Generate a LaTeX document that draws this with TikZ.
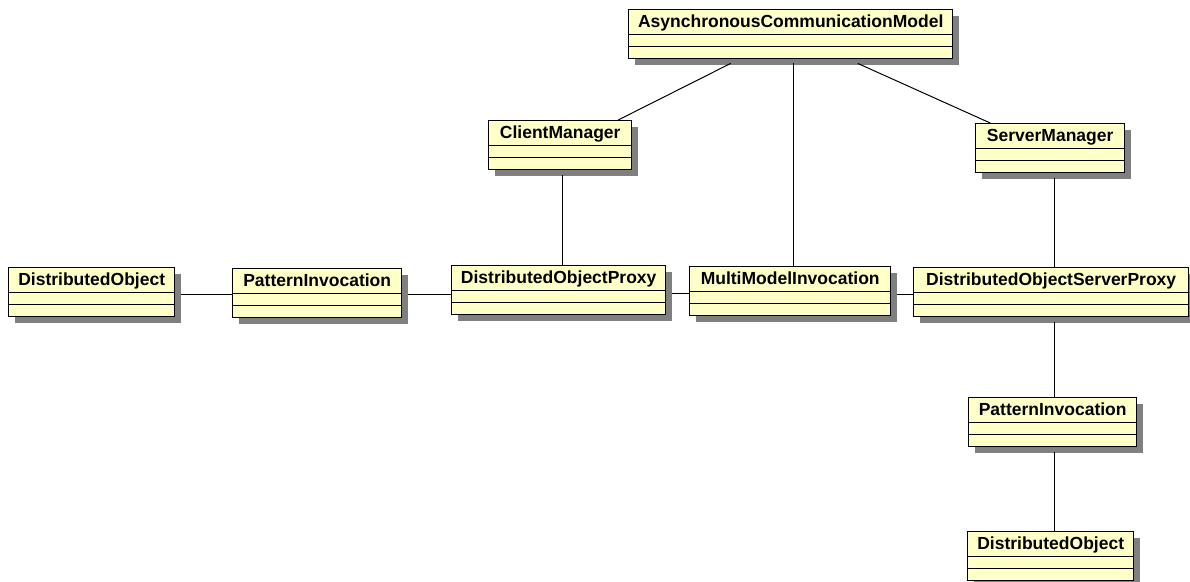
\documentclass[tikz,border=0pt]{standalone}
\usepackage{fontspec}
\setmainfont{Liberation Sans}
\usetikzlibrary{shadows}
\definecolor{umlfill}{RGB}{255,255,200}
\definecolor{shadowgray}{RGB}{128,128,128}
\begin{document}
\begin{tikzpicture}[x=1pt,y=-1pt,
  cls/.style={draw=black, line width=1.4pt, fill=umlfill, anchor=north west,
    inner sep=0pt, minimum height=49pt, text height=18pt, text depth=31pt,
    font=\fontsize{17.5}{20}\selectfont\bfseries,
    drop shadow={shadow xshift=6pt, shadow yshift=-6pt, fill=shadowgray, opacity=1},
    path picture={
      \draw[line width=1.4pt] ([yshift=-25pt]path picture bounding box.north west) -- ([yshift=-25pt]path picture bounding box.north east);
      \draw[line width=1.4pt] ([yshift=-37pt]path picture bounding box.north west) -- ([yshift=-37pt]path picture bounding box.north east);
    }},
  link/.style={draw=black, line width=1pt}]
\useasboundingbox[fill=white] (0,0) rectangle (1190,581);

\node[cls, minimum width=324pt] (acm) at (628,9) {AsynchronousCommunicationModel};
\node[cls, minimum width=143pt] (cm) at (488,120) {ClientManager};
\node[cls, minimum width=149pt] (sm) at (975,123) {ServerManager};
\node[cls, minimum width=166pt] (do1) at (8,267) {DistributedObject};
\node[cls, minimum width=169pt] (pi1) at (232,268) {PatternInvocation};
\node[cls, minimum width=214pt] (dop) at (451,265) {DistributedObjectProxy};
\node[cls, minimum width=201pt] (mmi) at (689,266) {MultiModelInvocation};
\node[cls, minimum width=275pt] (dosp) at (913,267) {DistributedObjectServerProxy};
\node[cls, minimum width=168pt] (pi2) at (968,397) {PatternInvocation};
\node[cls, minimum width=166pt] (do2) at (967,531) {DistributedObject};

% connectors from the top model
\draw[link] ([xshift=-60pt,yshift=-4pt]acm.south) -- ([xshift=58pt]cm.north);
\draw[link] ([xshift=67pt,yshift=-4pt]acm.south) -- ([xshift=-60pt]sm.north);
\draw[link] ([xshift=3pt,yshift=-4pt]acm.south) -- ([xshift=3pt]acm.south |- mmi.north);
% managers down
\draw[link] ([xshift=2.5pt,yshift=-5pt]cm.south) -- ([xshift=2.5pt]cm.south |- dop.north);
\draw[link] ([xshift=4.5pt,yshift=-5pt]sm.south) -- ([xshift=4.5pt]sm.south |- dosp.north);
% right column
\draw[link] ([xshift=3.5pt,yshift=-5pt]dosp.south) -- ([xshift=3.5pt]dosp.south |- pi2.north);
\draw[link] ([xshift=2pt,yshift=-5pt]pi2.south) -- ([xshift=2pt]pi2.south |- do2.north);
% horizontal chain
\draw[link] ([xshift=6pt,yshift=-27pt]do1.north east) -- ([yshift=-27pt]do1.north east -| pi1.west);
\draw[link] ([xshift=6pt,yshift=-26pt]pi1.north east) -- ([yshift=-26pt]pi1.north east -| dop.west);
\draw[link] ([xshift=6pt,yshift=-28pt]dop.north east) -- ([yshift=-28pt]dop.north east -| mmi.west);
\draw[link] ([xshift=6pt,yshift=-28pt]mmi.north east) -- ([yshift=-28pt]mmi.north east -| dosp.west);
\end{tikzpicture}
\end{document}
